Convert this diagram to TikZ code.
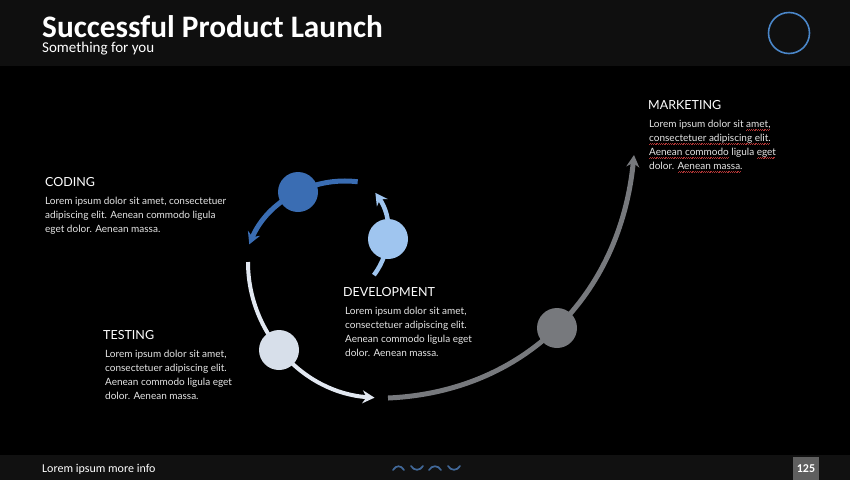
\documentclass[tikz,border=0pt]{standalone}
\usepackage{fontspec}
\setmainfont{Lato}
\newfontfamily\hdfont{Carlito}
\usetikzlibrary{arrows.meta,calc}

\definecolor{hdrbg}{HTML}{0F0F0F}
\definecolor{ftrbg}{HTML}{111111}
\definecolor{ringblue}{HTML}{4A86C8}
\definecolor{codeblue}{HTML}{3A6DB3}
\definecolor{devblue}{HTML}{9FC5EF}
\definecolor{testpale}{HTML}{D7DFEA}
\definecolor{testarc}{HTML}{E2E8F1}
\definecolor{mktgrey}{HTML}{77797D}
\definecolor{bodytext}{HTML}{E6E6E6}
\definecolor{wavecol}{HTML}{42699A}
\definecolor{pagebox}{HTML}{5F5F5F}
\definecolor{squig}{HTML}{B03434}

% red wavy underline for flagged words
\newsavebox\wavebox
\newcommand\spellwave[1]{\leavevmode\sbox\wavebox{#1}\rlap{\usebox\wavebox}%
  {\color{squig}\leaders\hbox{\rule[-2.8pt]{0.9pt}{0.45pt}\rule[-2.2pt]{0.9pt}{0.45pt}}\hskip\wd\wavebox}}

\begin{document}
\begin{tikzpicture}[x=1pt,y=-1pt,
  stage/.style={circle,minimum size=40pt,inner sep=0pt,draw=none},
  flow/.style={line width=#1,-{Stealth[length=12pt,width=13pt,inset=4pt]}},
  flow/.default=4.5pt,
  heading/.style={anchor=base west,inner sep=0pt,text=white,font=\fontsize{12.5}{14}\selectfont},
  % anchored at the baseline of the last line
  body/.style={anchor=base west,inner sep=0pt,align=left,text=bodytext,font=\fontsize{10}{14}\selectfont},
  wave/.style={line width=1.7pt,wavecol,line cap=round}]
\useasboundingbox (0,0) rectangle (850,480);

% background bands
\fill[black] (0,0) rectangle (850,480);
\fill[hdrbg] (0,0) rectangle (850,66);
\fill[ftrbg] (0,455) rectangle (850,480);

% header
\node[anchor=base west,inner sep=0pt,text depth=0pt,text=white,font=\hdfont\bfseries\fontsize{31.3}{31}\selectfont] (title) at (42,37) {Successful Product Launch};
\node[anchor=base west,inner sep=0pt,text=white,font=\hdfont\fontsize{15}{15}\selectfont] (subtitle) at (42,52) {Something for you};
\node[circle,draw=ringblue,line width=1.6pt,minimum size=41pt,inner sep=0pt] (ring) at (789,33) {};

% arc centres and free ends
\coordinate (cCode) at (345,285);
\coordinate (cDev) at (318,233);
\coordinate (cTest) at (384,262);
\coordinate (codeFrom) at ($(cCode)+(83:104pt)$);
\coordinate (devFrom) at ($(cDev)+(-37:70pt)$);
\coordinate (testFrom) at ($(cTest)+(180:136pt)$);
\coordinate (mktFrom) at (388,398);
\coordinate (mktTo) at (634,155);

% connectors
\draw[flow=5pt,codeblue] (codeFrom) arc[start angle=83,end angle=157,radius=104pt];
\draw[flow=4.5pt,devblue] (devFrom) arc[start angle=-37,end angle=35,radius=70pt];
\draw[flow=4pt,testarc] (testFrom) arc[start angle=180,end angle=266,radius=136pt];
\draw[flow=5pt,mktgrey] (mktFrom) .. controls (524,392) and (620,296) .. (mktTo);

% stage markers
\node[stage,fill=codeblue] (coding) at (298,192) {};
\node[stage,fill=devblue] (development) at (388,239) {};
\node[stage,fill=testpale] (testing) at (279,350) {};
\node[stage,fill=mktgrey] (marketing) at (557,328) {};

% texts
\node[heading] (codingHead) at (45,186) {CODING};
\node[body] (codingBody) at (45,232.5) {Lorem ipsum dolor sit amet, consectetuer\\adipiscing elit. Aenean commodo ligula\\eget dolor. Aenean massa.};

\node[heading] (testingHead) at (103,339) {TESTING};
\node[body] (testingBody) at (105,399.5) {Lorem ipsum dolor sit amet,\\consectetuer adipiscing elit.\\Aenean commodo ligula eget\\dolor. Aenean massa.};

\node[heading] (devHead) at (343,296) {DEVELOPMENT};
\node[body] (devBody) at (345,356) {Lorem ipsum dolor sit amet,\\consectetuer adipiscing elit.\\Aenean commodo ligula eget\\dolor. Aenean massa.};

\node[heading] (mktHead) at (648,109) {MARKETING};
\node[body] (mktBody) at (649,169.5) {Lorem ipsum dolor sit \spellwave{amet,}\\\spellwave{consectetuer adipiscing elit.}\\\spellwave{Aenean commodo} ligula \spellwave{eget}\\dolor. \spellwave{Aenean massa.}};

% footer
\node[anchor=base west,inner sep=0pt,text=white,font=\hdfont\fontsize{12}{12}\selectfont] (footnote) at (42,472) {Lorem ipsum more info};
\draw[wave] (393,470) .. controls (396,465) and (401,465) .. (404,470);
\draw[wave] (411,466) .. controls (414,471) and (420,471) .. (423,466);
\draw[wave] (429,470) .. controls (432,465) and (438,465) .. (441,470);
\draw[wave] (448,466) .. controls (451,471) and (457,471) .. (460,466);
\fill[pagebox] (793,457) rectangle (819,480);
\node[inner sep=0pt,text=white,font=\hdfont\bfseries\fontsize{12}{12}\selectfont] (pagenum) at (806,468.5) {125};
\end{tikzpicture}
\end{document}
